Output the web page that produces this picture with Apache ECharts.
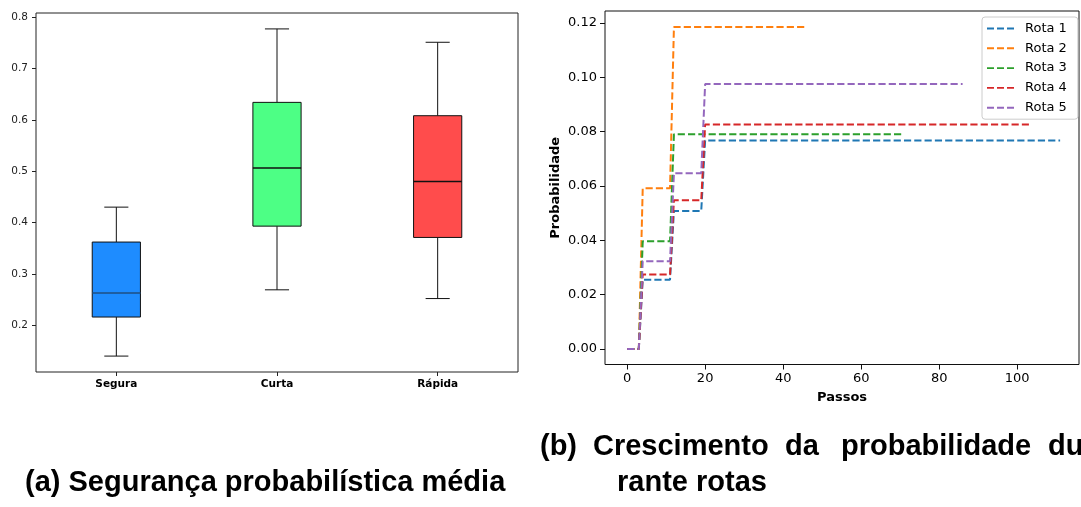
<!DOCTYPE html>
<html><head><meta charset="utf-8">
<script src="https://cdn.jsdelivr.net/npm/echarts@6/dist/echarts.min.js"></script>
<style>html,body{margin:0;padding:0;background:#fff}#c{width:1081px;height:507px}</style>
</head><body><div id="c"></div>
<script>
// ---- (a) box plot data ----
const boxCategories = ['Segura', 'Curta', 'Rápida'];
const boxLow    = [0.140, 0.269, 0.252];
const boxQ1     = [0.216, 0.393, 0.371];
const boxMedian = [0.263, 0.506, 0.480];
const boxQ3     = [0.362, 0.634, 0.608];
const boxHigh   = [0.430, 0.777, 0.751];
const boxTicks  = [0.2, 0.3, 0.4, 0.5, 0.6, 0.7, 0.8];

// ---- (b) step lines data: [passo, probabilidade] vertices ----
const routeNames = ['Rota 1', 'Rota 2', 'Rota 3', 'Rota 4', 'Rota 5'];
const rota1 = [[0,0],[3,0],[4,0.0255],[11,0.0255],[12,0.0508],[19,0.0508],[20,0.0767],[111,0.0767]];
const rota2 = [[0,0],[3,0],[4,0.0591],[11,0.0591],[12,0.1185],[46,0.1185]];
const rota3 = [[0,0],[3,0],[4,0.0396],[11,0.0396],[12,0.0790],[71,0.0790]];
const rota4 = [[0,0],[3,0],[4,0.0274],[11,0.0274],[12,0.0547],[19,0.0547],[20,0.0826],[103,0.0826]];
const rota5 = [[0,0],[3,0],[4,0.0323],[11,0.0323],[12,0.0647],[19,0.0647],[20,0.0975],[86,0.0975]];
const stepTicks = [0, 20, 40, 60, 80, 100];
const probTicks = [0, 0.02, 0.04, 0.06, 0.08, 0.10, 0.12];

// ---- styles ----
const boxFill = ['#1e8cff', '#4dff85', '#ff4c4c'];
const medianColor = ['#1f4f82', '#111111', '#111111'];
const routeColors = ['#1f77b4', '#ff7f0e', '#2ca02c', '#d62728', '#9467bd'];
const FONT = 'DejaVu Sans';
const CAP = 'Liberation Sans';
const dashIcon = 'path://M0,0h7.2v2h-7.2z M10.3,0h7.2v2h-7.2z M20.6,0h7.2v2h-7.2z';

const chart = echarts.init(document.getElementById('c'), null, {renderer: 'canvas'});

const boxData = boxCategories.map((c, i) => [i, boxLow[i], boxQ1[i], boxMedian[i], boxQ3[i], boxHigh[i]]);
const routes = [rota1, rota2, rota3, rota4, rota5];

function renderBox(params, api) {
  const i = api.value(0);
  const pLow = api.coord([i, api.value(1)]);
  const pQ1 = api.coord([i, api.value(2)]);
  const pMed = api.coord([i, api.value(3)]);
  const pQ3 = api.coord([i, api.value(4)]);
  const pHigh = api.coord([i, api.value(5)]);
  const bw = api.size([1, 0])[0] * 0.3;
  const cw = bw / 2;
  const x = pMed[0];
  const line = (x1, y1, x2, y2, c) => ({type: 'line', shape: {x1, y1, x2, y2}, style: {stroke: c || '#111', lineWidth: 1}});
  return {
    type: 'group',
    children: [
      line(x, pLow[1], x, pQ1[1]),
      line(x, pQ3[1], x, pHigh[1]),
      line(x - cw / 2, pLow[1], x + cw / 2, pLow[1]),
      line(x - cw / 2, pHigh[1], x + cw / 2, pHigh[1]),
      {type: 'rect', shape: {x: x - bw / 2, y: pQ3[1], width: bw, height: pQ1[1] - pQ3[1]},
       style: {fill: boxFill[i], stroke: '#111', lineWidth: 1}},
      {type: 'line', shape: {x1: x - bw / 2, y1: pMed[1], x2: x + bw / 2, y2: pMed[1]},
       style: {stroke: medianColor[i], lineWidth: 1.5}}
    ]
  };
}

function capText(text, x, y) {
  return {type: 'text', x: x, y: y, style: {text: text, fontFamily: CAP, fontWeight: 'bold', fontSize: 29,
          fill: '#000', verticalAlign: 'middle', align: 'left'}};
}

const option = {
  backgroundColor: '#ffffff',
  animation: false,
  grid: [
    {left: 36, top: 13, width: 482, height: 359, show: true, borderColor: '#222', borderWidth: 1, backgroundColor: 'transparent'},
    {left: 605, top: 11, width: 474, height: 353.5, show: true, borderColor: '#111', borderWidth: 1, backgroundColor: 'transparent'}
  ],
  xAxis: [
    {type: 'category', gridIndex: 0, data: boxCategories, boundaryGap: true,
     axisLine: {show: false, onZero: false},
     axisTick: {show: true, alignWithLabel: true, length: 4, lineStyle: {color: '#222'}},
     axisLabel: {fontFamily: FONT, fontSize: 10.5, fontWeight: 'bold', color: '#000', margin: 7},
     splitLine: {show: false}},
    {type: 'value', gridIndex: 1, min: -5.67, max: 115.84,
     axisLine: {show: false, onZero: false},
     axisTick: {show: true, length: 5, customValues: stepTicks, lineStyle: {color: '#111'}},
     axisLabel: {fontFamily: FONT, fontSize: 13, color: '#000', margin: 8, customValues: stepTicks},
     splitLine: {show: false},
     name: 'Passos', nameLocation: 'middle', nameGap: 27,
     nameTextStyle: {fontFamily: FONT, fontSize: 13, fontWeight: 'bold', color: '#000'}}
  ],
  yAxis: [
    {type: 'value', gridIndex: 0, min: 0.109, max: 0.808,
     axisLine: {show: false, onZero: false},
     axisTick: {show: true, length: 4, customValues: boxTicks, lineStyle: {color: '#222'}},
     axisLabel: {fontFamily: FONT, fontSize: 10.5, color: '#222', margin: 8, customValues: boxTicks,
                 formatter: v => v.toFixed(1)},
     splitLine: {show: false}},
    {type: 'value', gridIndex: 1, min: -0.00574, max: 0.1244,
     axisLine: {show: false, onZero: false},
     axisTick: {show: true, length: 5, customValues: probTicks, lineStyle: {color: '#111'}},
     axisLabel: {fontFamily: FONT, fontSize: 13, color: '#000', margin: 8, customValues: probTicks,
                 formatter: v => v.toFixed(2)},
     splitLine: {show: false},
     name: 'Probabilidade', nameLocation: 'middle', nameGap: 43, nameRotate: 90,
     nameTextStyle: {fontFamily: FONT, fontSize: 13, fontWeight: 'bold', color: '#000'}}
  ],
  legend: {
    data: routeNames.map(n => ({name: n, icon: dashIcon})),
    orient: 'vertical', left: 982, top: 17,
    itemWidth: 27, itemHeight: 2, itemGap: 6.8,
    padding: [5, 11, 5, 5],
    backgroundColor: 'rgba(255,255,255,0.85)', borderColor: '#cccccc', borderWidth: 1, borderRadius: 3,
    textStyle: {fontFamily: FONT, fontSize: 13, color: '#000', padding: [0, 0, 0, 6]},
    selectedMode: false
  },
  series: [
    {type: 'custom', name: 'box', xAxisIndex: 0, yAxisIndex: 0, data: boxData,
     encode: {x: 0, y: [1, 2, 3, 4, 5]}, renderItem: renderBox, silent: true},
    ...routes.map((d, k) => ({
      type: 'line', name: routeNames[k], xAxisIndex: 1, yAxisIndex: 1, data: d,
      symbol: 'none', showSymbol: false, z: 2 + k,
      lineStyle: {color: routeColors[k], width: 2, type: [7.2, 3.1]},
      itemStyle: {color: routeColors[k]}
    }))
  ],
  graphic: [
    capText('(a) Segurança probabilística média', 25, 483),
    capText('(b)', 540, 447),
    capText('Crescimento', 593, 447),
    capText('da', 785, 447),
    capText('probabilidade', 841, 447),
    capText('du', 1048, 447),
    capText('rante rotas', 617, 483)
  ]
};
chart.setOption(option);
</script>
</body></html>
